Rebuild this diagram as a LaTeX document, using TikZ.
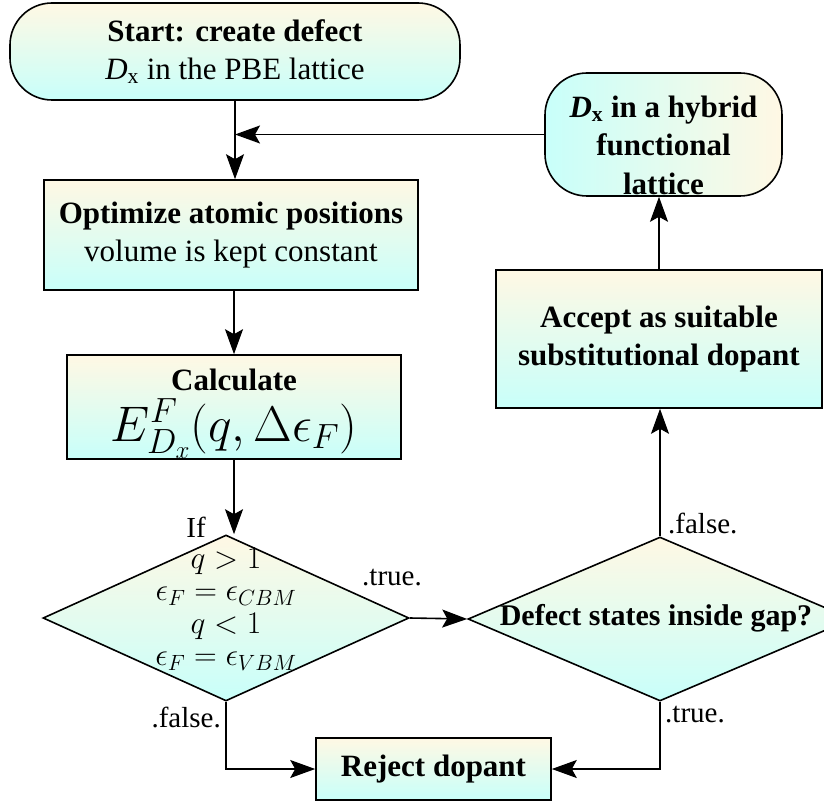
\RequirePackage{fix-cm}
\documentclass[tikz,border=0pt]{standalone}
\usepackage{fontspec}
\setmainfont{Liberation Serif}
\usetikzlibrary{shapes.geometric,arrows.meta}
\definecolor{cream}{RGB}{255,248,228}
\definecolor{aqua}{RGB}{200,255,250}
\tikzset{
  box/.style={draw, line width=1.6pt, top color=cream, bottom color=aqua, align=center, inner sep=0pt,
    font=\fontsize{31}{38}\selectfont},
  roundbox/.style={box, rounded corners=42pt},
  dia/.style={draw, line width=1.6pt, top color=cream, bottom color=aqua, shape=diamond, inner sep=0pt},
  arr/.style={line width=1.6pt, -{Stealth[length=25pt,width=18pt,inset=5pt]}},
  lab/.style={font=\fontsize{29}{34}\selectfont, inner sep=0pt},
}
\begin{document}
\begin{tikzpicture}[x=1pt,y=-1pt]
\useasboundingbox (0,0) rectangle (824,802);
\node[roundbox, minimum width=450pt, minimum height=97pt] (start) at (235,51.5)
  {\textbf{Start: create defect}\\\textit{D}\textsubscript{x} in the PBE lattice};
\node[box, minimum width=374pt, minimum height=110pt] (opt) at (231,235)
  {\textbf{Optimize atomic positions}\\volume is kept constant};
\node[box, minimum width=334pt, minimum height=104pt] (calc) at (234,407) {};
\node[font=\bfseries\fontsize{31}{38}\selectfont, inner sep=0pt, anchor=base] (calct) at (234,390) {Calculate};
\node[font=\fontsize{50}{50}\selectfont, inner sep=0pt, anchor=base] (calcm) at (234,441) {$E^F_{D_x}(q,\Delta\epsilon_F)$};
\node[dia, minimum width=366pt, minimum height=166pt] (d1) at (226,618) {};
\node[font=\fontsize{31.5}{32.5}\selectfont, align=center, inner sep=0pt] (d1t) at (226,609)
  {$q>1$\\$\epsilon_F=\epsilon_{CBM}$\\$q<1$\\$\epsilon_F=\epsilon_{VBM}$};
\node[dia, minimum width=384pt, minimum height=164pt] (d2) at (660,619) {};
\node[font=\bfseries\fontsize{30}{36}\selectfont, inner sep=0pt] (d2t) at (656,618) {Defect states inside gap?};
\node[box, minimum width=326pt, minimum height=138pt] (acc) at (659,339)
  {\textbf{Accept as suitable}\\\textbf{substitutional dopant}};
\node[box, rounded corners=42pt, left color=aqua, right color=cream, minimum width=237pt, minimum height=123pt] (hyb) at (663.5,134.5) {};
\node[font=\bfseries\fontsize{31}{38.5}\selectfont, align=center, inner sep=0pt] (hybt) at (663.5,145)
  {\textit{D}\textsubscript{x} in a hybrid\\functional\\lattice};
\node[box, minimum width=235pt, minimum height=62pt] (rej) at (433.5,769) {\textbf{Reject dopant}};
% labels
\node[lab, anchor=east] (lif) at (206,527) {If};
\node[lab, anchor=west] (ltrue1) at (362,578) {.true.};
\node[lab, anchor=west] (lfalse2) at (668,523) {.false.};
\node[lab, anchor=west] (ltrue2) at (665,715) {.true.};
\node[lab, anchor=east] (lfalse1) at (221,717) {.false.};
% connectors
\draw[arr] (start.south) -- (start.south |- opt.north);
\draw[arr] (hyb.west) -- (hyb.west -| start.south);
\draw[arr] (opt.south -| calc.north) -- (calc.north);
\draw[arr] (calc.south) -- (calc.south |- d1.north);
\draw[arr] (d1.east) -- (d2.west);
\draw[arr] (d2.north) -- (d2.north |- acc.south);
\draw[arr] (acc.north) -- (acc.north |- hyb.south);
\draw[arr] (d1.south) |- (rej.west);
\draw[arr] (d2.south) |- (rej.east);
\end{tikzpicture}
\end{document}
